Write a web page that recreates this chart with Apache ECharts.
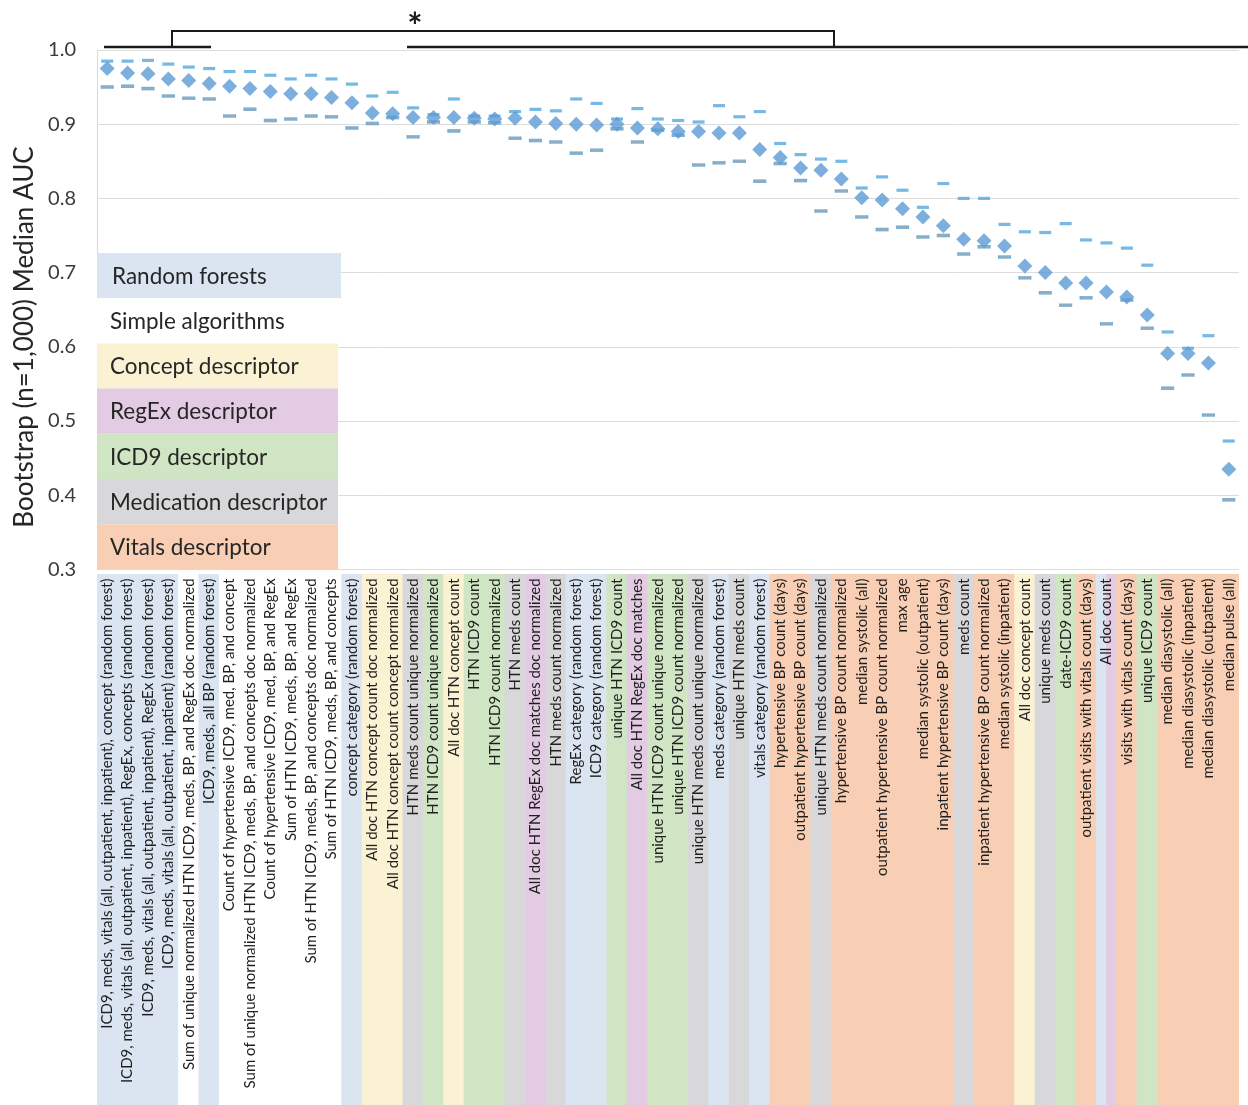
<!DOCTYPE html>
<html>
<head>
<meta charset="utf-8">
<title>Bootstrap median AUC by feature</title>
<script src="https://cdn.jsdelivr.net/npm/echarts@6/dist/echarts.min.js"></script>
<style>
  html, body { margin: 0; padding: 0; background: #ffffff; }
  #chart { width: 1248px; height: 1105px; }
</style>
</head>
<body>
<div id="chart"></div>
<script>
// Features, ordered by median AUC
const categories = [
  'ICD9, meds, vitals (all, outpatient, inpatient), concept (random forest)',
  'ICD9, meds, vitals (all, outpatient, inpatient), RegEx, concepts (random forest)',
  'ICD9, meds, vitals (all, outpatient, inpatient), RegEx (random forest)',
  'ICD9, meds, vitals (all, outpatient, inpatient) (random forest)',
  'Sum of unique normalized HTN ICD9, meds, BP, and RegEx doc normalized',
  'ICD9, meds, all BP (random forest)',
  'Count of hypertensive ICD9, med, BP, and concept',
  'Sum of unique normalized HTN ICD9, meds, BP, and concepts doc normalized',
  'Count of hypertensive ICD9, med, BP, and RegEx',
  'Sum of HTN ICD9, meds, BP, and RegEx',
  'Sum of HTN ICD9, meds, BP, and concepts doc normalized',
  'Sum of HTN ICD9, meds, BP, and concepts',
  'concept category (random forest)',
  'All doc HTN concept count doc normalized',
  'All doc HTN concept count concept normalized',
  'HTN meds count unique normalized',
  'HTN ICD9 count unique normalized',
  'All doc HTN concept count',
  'HTN ICD9 count',
  'HTN ICD9 count normalized',
  'HTN meds count',
  'All doc HTN RegEx doc matches doc normalized',
  'HTN meds count normalized',
  'RegEx category (random forest)',
  'ICD9 category (random forest)',
  'unique HTN ICD9 count',
  'All doc HTN RegEx doc matches',
  'unique HTN ICD9 count unique normalized',
  'unique HTN ICD9 count normalized',
  'unique HTN meds count unique normalized',
  'meds category (random forest)',
  'unique HTN meds count',
  'vitals category (random forest)',
  'hypertensive BP count (days)',
  'outpatient hypertensive BP count (days)',
  'unique HTN meds count normalized',
  'hypertensive BP count normalized',
  'median systolic (all)',
  'outpatient hypertensive BP count normalized',
  'max age',
  'median systolic (outpatient)',
  'inpatient hypertensive BP count (days)',
  'meds count',
  'inpatient hypertensive BP count normalized',
  'median systolic (inpatient)',
  'All doc concept count',
  'unique meds count',
  'date-ICD9 count',
  'outpatient visits with vitals count (days)',
  'All doc count',
  'visits with vitals count (days)',
  'unique ICD9 count',
  'median diasystolic (all)',
  'median diasystolic (inpatient)',
  'median diasystolic (outpatient)',
  'median pulse (all)'
];

// Descriptor group of each feature ("rf|regex" = shared by two groups)
const groups = [
  'rf', 'rf', 'rf', 'rf', 'simple', 'rf', 'simple', 'simple', 'simple', 'simple',
  'simple', 'simple', 'rf', 'concept', 'concept', 'med', 'icd9', 'concept', 'icd9', 'icd9',
  'med', 'regex', 'med', 'rf', 'rf', 'icd9', 'regex', 'icd9', 'icd9', 'med',
  'rf', 'med', 'rf', 'vitals', 'vitals', 'med', 'vitals', 'vitals', 'vitals', 'vitals',
  'vitals', 'vitals', 'med', 'vitals', 'vitals', 'concept', 'med', 'icd9', 'vitals', 'rf|regex',
  'vitals', 'icd9', 'vitals', 'vitals', 'vitals', 'vitals'
];

// Bootstrap median AUC and the bounds of its interval
const medianAUC = [
  0.975, 0.969, 0.968, 0.961, 0.959, 0.955, 0.951, 0.948, 0.944, 0.941,
  0.941, 0.936, 0.929, 0.915, 0.914, 0.909, 0.909, 0.909, 0.908, 0.907,
  0.908, 0.903, 0.901, 0.900, 0.899, 0.900, 0.895, 0.894, 0.890, 0.890,
  0.888, 0.888, 0.866, 0.855, 0.841, 0.838, 0.826, 0.801, 0.798, 0.786,
  0.775, 0.763, 0.745, 0.743, 0.736, 0.709, 0.700, 0.686, 0.686, 0.674,
  0.667, 0.643, 0.591, 0.591, 0.578, 0.435
];
const upperAUC = [
  0.985, 0.985, 0.986, 0.981, 0.977, 0.975, 0.971, 0.971, 0.966, 0.961,
  0.966, 0.961, 0.954, 0.938, 0.943, 0.922, 0.913, 0.934, 0.911, 0.911,
  0.917, 0.920, 0.918, 0.934, 0.928, 0.907, 0.921, 0.907, 0.905, 0.903,
  0.925, 0.910, 0.917, 0.874, 0.859, 0.853, 0.850, 0.814, 0.829, 0.811,
  0.788, 0.820, 0.800, 0.800, 0.765, 0.755, 0.754, 0.766, 0.744, 0.740,
  0.733, 0.710, 0.620, 0.598, 0.615, 0.473
];
const lowerAUC = [
  0.950, 0.951, 0.948, 0.938, 0.935, 0.934, 0.911, 0.920, 0.905, 0.907,
  0.911, 0.910, 0.895, 0.901, 0.909, 0.883, 0.903, 0.891, 0.903, 0.902,
  0.881, 0.878, 0.876, 0.861, 0.865, 0.894, 0.876, 0.892, 0.885, 0.845,
  0.848, 0.850, 0.823, 0.847, 0.824, 0.783, 0.810, 0.775, 0.758, 0.761,
  0.748, 0.750, 0.725, 0.735, 0.721, 0.693, 0.673, 0.656, 0.666, 0.631,
  0.663, 0.625, 0.544, 0.562, 0.508, 0.394
];

// Y axis range and ticks
const yMin = 0.3, yMax = 1.0, yStep = 0.1;

// Key of the descriptor groups
const legendKeys = ['rf', 'simple', 'concept', 'regex', 'icd9', 'med', 'vitals'];
const legendNames = ['Random forests', 'Simple algorithms', 'Concept descriptor', 'RegEx descriptor',
                     'ICD9 descriptor', 'Medication descriptor', 'Vitals descriptor'];
const groupColors = {
  rf: '#dbe5f1', simple: '#ffffff', concept: '#fbf2d4', regex: '#e2cbe3',
  icd9: '#cfe5c3', med: '#d8d8da', vitals: '#f8cfb4'
};

const FONT = 'Lato, "Open Sans", sans-serif';

function stripColor(g) {
  if (g.indexOf('|') >= 0) {
    const parts = g.split('|');
    return {
      type: 'linear', x: 0, y: 0, x2: 1, y2: 0,
      colorStops: [
        { offset: 0, color: groupColors[parts[0]] },
        { offset: 0.5, color: groupColors[parts[0]] },
        { offset: 0.5, color: groupColors[parts[1]] },
        { offset: 1, color: groupColors[parts[1]] }
      ]
    };
  }
  return groupColors[g];
}

const chart = echarts.init(document.getElementById('chart'), null, { renderer: 'canvas' });

// Legend block drawn as stacked coloured rows
const legendGraphics = [];
const legTop = 253, legRow = 45.2, legLeft = 97;
legendKeys.forEach((k, i) => {
  legendGraphics.push({
    type: 'rect', z: 100,
    shape: { x: legLeft, y: legTop + i * legRow, width: i === 0 ? 244 : 241, height: legRow },
    style: { fill: groupColors[k] }
  });
  legendGraphics.push({
    type: 'text', z: 101,
    x: i === 0 ? 112 : 110, y: legTop + i * legRow + legRow / 2 + 1,
    style: { text: legendNames[i], font: '22.5px ' + FONT, fill: '#262626', verticalAlign: 'middle' }
  });
});

// Significance bracket above the plot
const bracket = [
  { type: 'line', z: 100, shape: { x1: 104, y1: 47, x2: 211, y2: 47 }, style: { stroke: '#1a1a1a', lineWidth: 2.5 } },
  { type: 'line', z: 100, shape: { x1: 407, y1: 47, x2: 1248, y2: 47 }, style: { stroke: '#1a1a1a', lineWidth: 2.5 } },
  { type: 'polyline', z: 100, shape: { points: [[172, 47], [172, 31], [834, 31], [834, 47]] },
    style: { stroke: '#1a1a1a', lineWidth: 2, fill: null } },
  { type: 'text', z: 100, x: 415, y: 27,
    style: { text: '*', font: 'bold 36px ' + FONT, fill: '#1a1a1a', align: 'center', verticalAlign: 'middle' } }
];

const option = {
  backgroundColor: '#ffffff',
  animation: false,
  textStyle: { fontFamily: FONT },
  grid: [
    { left: 97, right: 9, top: 50, bottom: 535.6 },
    { left: 97, right: 9, top: 574, bottom: 0 }
  ],
  xAxis: [
    {
      type: 'category', gridIndex: 0, data: categories, z: 10,
      boundaryGap: true,
      axisLine: { show: false }, axisTick: { show: false },
      splitLine: { show: false },
      axisLabel: {
        interval: 0, rotate: 90, margin: 9,
        fontSize: 15, color: '#1f1f1f', fontFamily: FONT
      }
    },
    {
      type: 'category', gridIndex: 1, data: categories, show: false, boundaryGap: true
    }
  ],
  yAxis: [
    {
      type: 'value', gridIndex: 0, min: yMin, max: yMax, interval: yStep,
      axisLine: { show: true, lineStyle: { color: '#d9d9d9', width: 1 } },
      axisTick: { show: false },
      splitLine: { show: true, lineStyle: { color: '#dcdcdc', width: 1 } },
      axisLabel: {
        fontSize: 20, color: '#3a3a3a', margin: 21, fontFamily: FONT,
        formatter: v => v.toFixed(1)
      }
    },
    { type: 'value', gridIndex: 1, min: 0, max: 1, show: false }
  ],
  series: [
    {
      name: 'strips', type: 'bar', xAxisIndex: 1, yAxisIndex: 1,
      barWidth: 21.2, barGap: '-100%', silent: true,
      data: groups.map(g => ({ value: 1, itemStyle: { color: stripColor(g) } }))
    },
    {
      name: 'upper', type: 'scatter', xAxisIndex: 0, yAxisIndex: 0,
      symbol: 'rect', symbolSize: [12, 3.2],
      itemStyle: { color: '#52a7df' },
      data: upperAUC
    },
    {
      name: 'lower', type: 'scatter', xAxisIndex: 0, yAxisIndex: 0,
      symbol: 'rect', symbolSize: [12, 3.2],
      itemStyle: { color: '#7098b5', borderColor: '#5aa6d8', borderWidth: 0.6 },
      data: lowerAUC
    },
    {
      name: 'median', type: 'scatter', xAxisIndex: 0, yAxisIndex: 0,
      symbol: 'diamond', symbolSize: [15, 15], z: 5,
      itemStyle: { color: '#5b9bd5' },
      data: medianAUC
    }
  ],
  graphic: [
    {
      type: 'text', z: 100, x: 25, y: 337, rotation: Math.PI / 2,
      style: {
        text: 'Bootstrap (n=1,000) Median AUC', font: '26px ' + FONT, fill: '#262626',
        align: 'center', verticalAlign: 'middle'
      }
    }
  ].concat(legendGraphics, bracket)
};

chart.setOption(option);
</script>
</body>
</html>
